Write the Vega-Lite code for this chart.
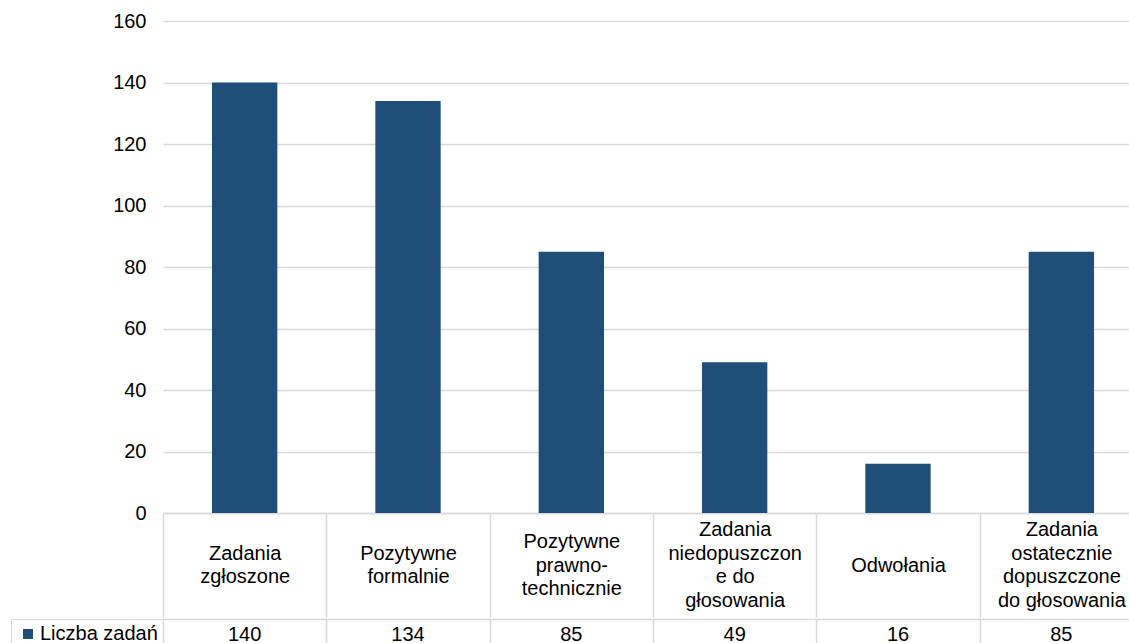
{
  "$schema": "https://vega.github.io/schema/vega-lite/v6.json",
  "background": "white",
  "padding": {"left": 10, "top": 11, "right": 0, "bottom": 0},
  "config": {"font": "Liberation Sans", "view": {"stroke": null}},
  "data": {"values": [
    {"category": "Zadania\nzgłoszone", "series": "Liczba zadań", "value": 140},
    {"category": "Pozytywne\nformalnie", "series": "Liczba zadań", "value": 134},
    {"category": "Pozytywne\nprawno-\ntechnicznie", "series": "Liczba zadań", "value": 85},
    {"category": "Zadania\nniedopuszczon\ne do\ngłosowania", "series": "Liczba zadań", "value": 49},
    {"category": "Odwołania", "series": "Liczba zadań", "value": 16},
    {"category": "Zadania\nostatecznie\ndopuszczone\ndo głosowania", "series": "Liczba zadań", "value": 85}
  ]},
  "spacing": 0,
  "resolve": {"scale": {"color": "independent"}, "legend": {"color": "independent"}},
  "vconcat": [
    {
      "width": 980,
      "height": 492,
      "mark": {"type": "bar", "color": "#1F4E79", "width": {"band": 0.4}},
      "encoding": {
        "x": {
          "field": "category", "type": "nominal", "sort": null,
          "scale": {"paddingInner": 0, "paddingOuter": 0},
          "axis": {
            "title": null, "orient": "bottom", "labelAngle": 0,
            "labelExpr": "split(datum.label, '\\n')",
            "labelFontSize": 20, "labelColor": "#000", "labelLineHeight": 23.5,
            "labelBaseline": "middle", "labelLimit": 0,
            "labelPadding": {
              "condition": [
                {"test": "length(split(datum.value, '\\n')) == 2", "value": -63.75},
                {"test": "length(split(datum.value, '\\n')) == 3", "value": -75.5},
                {"test": "length(split(datum.value, '\\n')) == 4", "value": -87.25}
              ],
              "value": -52
            },
            "labelOverlap": false, "labelBound": false,
            "tickBand": "extent", "tickSize": 104, "tickColor": "#d9d9d9", "tickWidth": 1.5,
            "domainColor": "#d9d9d9", "domainWidth": 1.5
          }
        },
        "y": {
          "field": "value", "type": "quantitative",
          "scale": {"domain": [0, 160]},
          "axis": {
            "title": null, "values": [0, 20, 40, 60, 80, 100, 120, 140, 160],
            "labelFontSize": 20, "labelColor": "#000", "labelPadding": 17,
            "ticks": false, "domain": false,
            "gridColor": "#d9d9d9", "gridWidth": 1.5
          }
        }
      }
    },
    {
      "width": 980,
      "height": 32,
      "encoding": {
        "x": {
          "field": "category", "type": "nominal", "sort": null,
          "scale": {"paddingInner": 0, "paddingOuter": 0},
          "axis": {
            "title": null, "orient": "top", "labels": false, "ticks": false,
            "domainColor": "#d9d9d9", "domainWidth": 1.5,
            "grid": true, "gridColor": "#d9d9d9", "gridWidth": 1.5, "tickBand": "extent"
          }
        }
      },
      "layer": [
        {
          "mark": {"type": "text", "fontSize": 20, "color": "#000"},
          "encoding": {"text": {"field": "value", "type": "quantitative"}}
        },
        {
          "mark": {"type": "square", "opacity": 0},
          "encoding": {
            "color": {
              "field": "series", "type": "nominal",
              "scale": {"range": ["#1F4E79"]},
              "legend": {
                "title": null, "orient": "left", "offset": 0,
                "symbolType": "square", "symbolSize": 100, "symbolOpacity": 1,
                "symbolStrokeWidth": 0, "symbolOffset": 2,
                "labelFontSize": 20, "labelColor": "#000", "labelOffset": 2,
                "padding": 5, "strokeColor": "#d9d9d9"
              }
            }
          }
        }
      ]
    }
  ]
}
